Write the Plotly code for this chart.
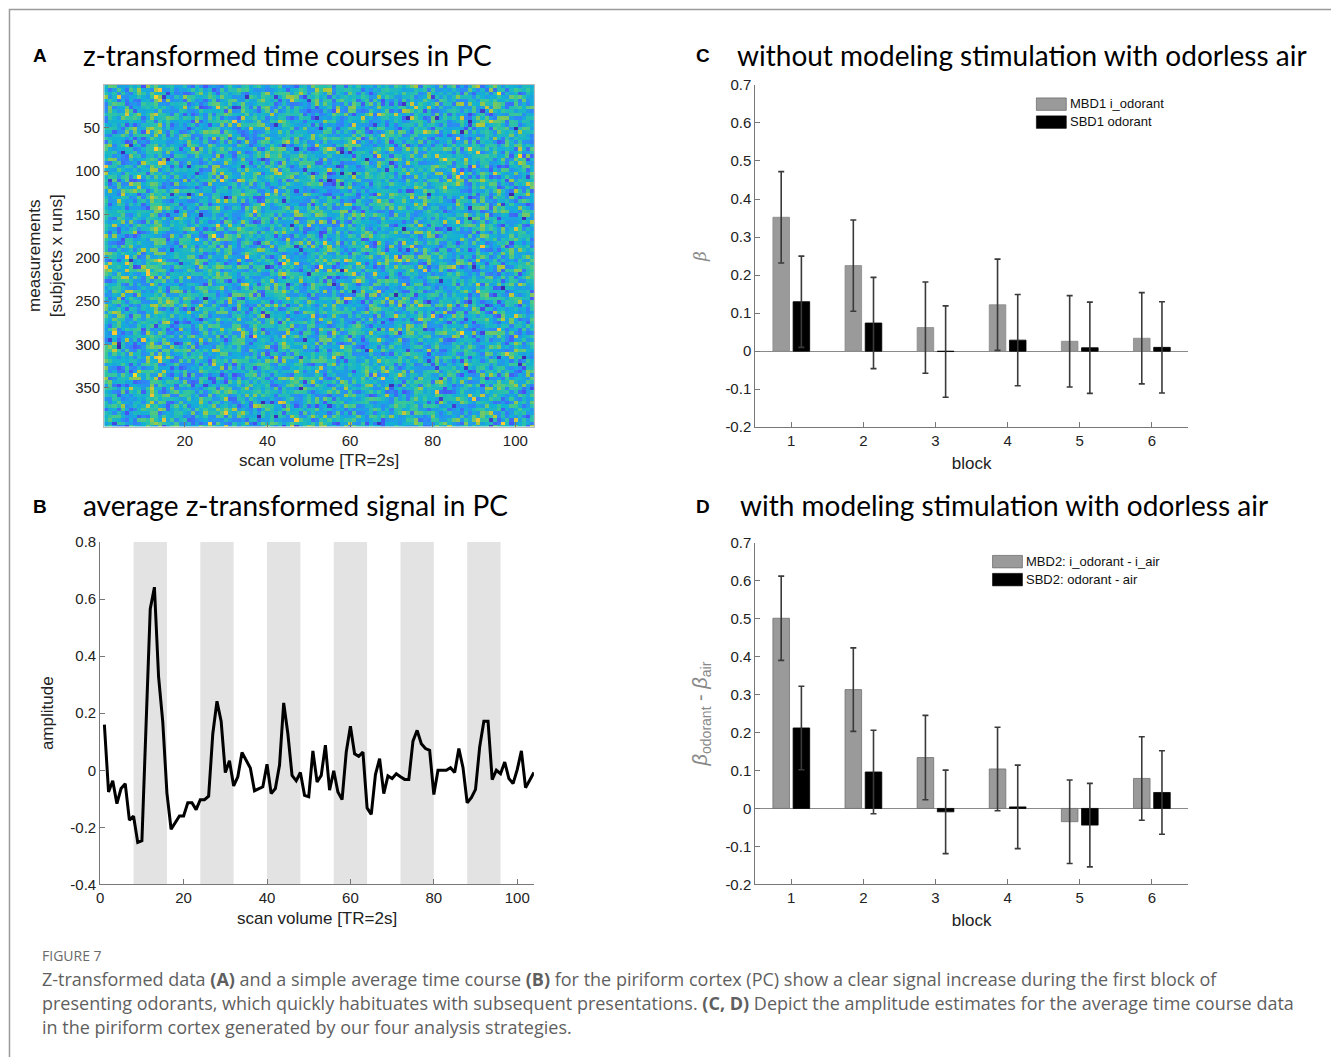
import numpy as np
import plotly.graph_objects as go

# ---------------- data ----------------
volumes = list(range(1, 105))
avg_signal = [0.160, -0.076, -0.037, -0.117, -0.064, -0.047, -0.175, -0.161, -0.253, -0.247,
              0.160, 0.566, 0.642, 0.327, 0.170, -0.080, -0.207, -0.183, -0.160, -0.160,
              -0.114, -0.114, -0.138, -0.103, -0.103, -0.091, 0.128, 0.242, 0.172, -0.008,
              0.033, -0.055, -0.023, 0.062, 0.035, 0.008, -0.072, -0.064, -0.058, 0.021,
              -0.082, -0.064, 0.018, 0.236, 0.128, -0.018, -0.037, -0.008, -0.088, -0.093,
              0.068, -0.041, -0.018, 0.088, -0.070, -0.002, -0.076, -0.103, 0.064, 0.154,
              0.058, 0.049, 0.064, -0.132, -0.155, -0.015, 0.041, -0.082, -0.020, -0.029,
              -0.012, -0.023, -0.032, -0.032, 0.102, 0.140, 0.093, 0.076, 0.070, -0.085,
              0.000, 0.000, 0.000, 0.009, -0.008, 0.076, 0.009, -0.114, -0.096, -0.067,
              0.082, 0.172, 0.172, -0.033, 0.000, -0.012, 0.029, -0.029, -0.047, 0.002,
              0.068, -0.061, -0.035, -0.008]
stim_onsets = [8, 24, 40, 56, 72, 88]
stim_length = 8
n_measurements = 394

blocks = [1, 2, 3, 4, 5, 6]
mbd1 = [0.352, 0.225, 0.062, 0.122, 0.026, 0.034]
mbd1_err = [0.120, 0.120, 0.120, 0.120, 0.120, 0.120]
sbd1 = [0.130, 0.074, -0.001, 0.029, 0.009, 0.010]
sbd1_err = [0.120, 0.120, 0.120, 0.120, 0.120, 0.120]
mbd2 = [0.501, 0.313, 0.134, 0.104, -0.035, 0.079]
mbd2_err = [0.111, 0.110, 0.111, 0.110, 0.110, 0.110]
sbd2 = [0.212, 0.096, -0.009, 0.004, -0.044, 0.042]
sbd2_err = [0.110, 0.110, 0.110, 0.110, 0.110, 0.110]

legend_c = ["MBD1 i_odorant", "SBD1 odorant"]
legend_d = ["MBD2: i_odorant - i_air", "SBD2: odorant - air"]

# Panel A: individual cells cannot be read from the picture; column means follow
# the average time course of panel B, and the per-cell scatter is a fixed texture.
_rng = np.random.default_rng(11)
_tex = np.repeat(_rng.standard_normal((int(np.ceil(n_measurements / 4)), len(volumes))), 4, axis=0)[:n_measurements]
heat_z = _tex + np.array(avg_signal)[None, :]
measurements = list(range(1, n_measurements + 1))

parula = [[0.0, "rgb(62,38,168)"], [0.11, "rgb(72,82,244)"], [0.238, "rgb(46,135,247)"],
          [0.365, "rgb(18,177,214)"], [0.492, "rgb(55,200,151)"], [0.619, "rgb(171,199,57)"],
          [0.746, "rgb(254,195,56)"], [0.873, "rgb(245,235,24)"], [1.0, "rgb(249,251,21)"]]

W, H = 1331, 1057
# calibration of figure coordinates to the photographed page (body margin / viewport)
def px(x): return (x - 3.5) / W
def py(y): return 1 - ((y - 8) / 0.985) / H

TICK = dict(family="Liberation Sans, Arial, sans-serif", size=15, color="#222")
AXT = dict(family="Liberation Sans, Arial, sans-serif", size=17, color="#222")
AXC = "#777"

fig = go.Figure()

# A heatmap
fig.add_trace(go.Heatmap(x=volumes, y=measurements, z=heat_z, colorscale=parula,
                         zmin=-3.0, zmax=5.0, showscale=False, xaxis="x", yaxis="y"))

# B shading + line
for on in stim_onsets:
    fig.add_shape(type="rect", xref="x2", yref="y2 domain", x0=on, x1=on + stim_length,
                  y0=0, y1=1, fillcolor="#e3e3e3", line_width=0, layer="below")
fig.add_trace(go.Scatter(x=volumes, y=avg_signal, mode="lines",
                         line=dict(color="black", width=3), xaxis="x2", yaxis="y2",
                         showlegend=False))

# C bars
err_style = dict(color="#3a3a3a", thickness=1.6, width=3)
fig.add_trace(go.Bar(x=blocks, y=mbd1, marker=dict(color="#9a9a9a", line=dict(color="#8a8a8a", width=0.8)),
                     error_y=dict(type="data", array=mbd1_err, **err_style),
                     xaxis="x3", yaxis="y3", showlegend=False))
fig.add_trace(go.Bar(x=blocks, y=sbd1, marker=dict(color="black", line=dict(color="black", width=0.8)),
                     error_y=dict(type="data", array=sbd1_err, **err_style),
                     xaxis="x3", yaxis="y3", showlegend=False))
# D bars
fig.add_trace(go.Bar(x=blocks, y=mbd2, marker=dict(color="#9a9a9a", line=dict(color="#707070", width=0.8)),
                     error_y=dict(type="data", array=mbd2_err, **err_style),
                     xaxis="x4", yaxis="y4", showlegend=False))
fig.add_trace(go.Bar(x=blocks, y=sbd2, marker=dict(color="black", line=dict(color="black", width=0.8)),
                     error_y=dict(type="data", array=sbd2_err, **err_style),
                     xaxis="x4", yaxis="y4", showlegend=False))

def ax(domain, **kw):
    d = dict(domain=domain, showgrid=False, zeroline=False, ticks="inside", ticklen=5,
             tickcolor=AXC, linecolor=AXC, linewidth=1, showline=True, tickfont=TICK,
             title_font=AXT)
    d.update(kw)
    return d

xa_dom = [px(104), px(535)]
ya_dom = [py(426), py(84)]
xb_dom = [px(100), px(535)]
yb_dom = [py(884.3), py(541.7)]
xc_dom = [px(757), px(1191)]
yc_dom = [py(426.7), py(84)]
yd_dom = [py(884.3), py(542.3)]

fig.update_layout(
    width=W, height=H, margin=dict(l=0, r=0, t=0, b=0),
    paper_bgcolor="white", plot_bgcolor="rgba(0,0,0,0)",
    barmode="group", bargap=0.44, bargroupgap=0.18,
    showlegend=False,
    xaxis=ax(xa_dom, anchor="y", range=[0.5, 104.5], tickvals=[20, 40, 60, 80, 100], mirror=True,
             linecolor="#bbb", title=dict(text="scan volume [TR=2s]", standoff=6)),
    yaxis=ax(ya_dom, anchor="x", range=[n_measurements + 0.5, 0.5], tickvals=[50, 100, 150, 200, 250, 300, 350],
             mirror=True, linecolor="#bbb",
             title=dict(text="measurements<br>[subjects x runs]", standoff=8)),
    xaxis2=ax(xb_dom, anchor="y2", range=[0, 104], tickvals=[0, 20, 40, 60, 80, 100],
              title=dict(text="scan volume [TR=2s]", standoff=6)),
    yaxis2=ax(yb_dom, anchor="x2", range=[-0.4, 0.8], tickvals=[-0.4, -0.2, 0, 0.2, 0.4, 0.6, 0.8],
              ticktext=["-0.4", "-0.2", "0", "0.2", "0.4", "0.6", "0.8"],
              title=dict(text="amplitude", standoff=12)),
    xaxis3=ax(xc_dom, anchor="y3", range=[0.5, 6.5], tickvals=blocks,
              title=dict(text="block", standoff=8)),
    yaxis3=ax(yc_dom, anchor="x3", range=[-0.2, 0.7], tickvals=[-0.2, -0.1, 0, 0.1, 0.2, 0.3, 0.4, 0.5, 0.6, 0.7],
              ticktext=["-0.2", "-0.1", "0", "0.1", "0.2", "0.3", "0.4", "0.5", "0.6", "0.7"],
              zeroline=True, zerolinecolor="#8a8a8a", zerolinewidth=1,
              title=dict(text="<i>β</i>", standoff=14, font=dict(family="DejaVu Serif", size=17, color="#888"))),
    xaxis4=ax(xc_dom, anchor="y4", range=[0.5, 6.5], tickvals=blocks,
              title=dict(text="block", standoff=8)),
    yaxis4=ax(yd_dom, anchor="x4", range=[-0.2, 0.7], tickvals=[-0.2, -0.1, 0, 0.1, 0.2, 0.3, 0.4, 0.5, 0.6, 0.7],
              ticktext=["-0.2", "-0.1", "0", "0.1", "0.2", "0.3", "0.4", "0.5", "0.6", "0.7"],
              zeroline=True, zerolinecolor="#8a8a8a", zerolinewidth=1,
              title=dict(text="<i>β</i><sub>odorant</sub> - <i>β</i><sub>air</sub>", standoff=12,
                         font=dict(family="Liberation Sans, Arial", size=20, color="#888"))),
)

# frame
fig.add_shape(type="rect", xref="paper", yref="paper", x0=px(9), x1=px(1400), y0=py(1100), y1=py(8.6),
              line=dict(color="#9a9a9a", width=1.5), fillcolor="rgba(0,0,0,0)", layer="below")

TITLE = dict(family="Lato, Open Sans, sans-serif", size=28, color="black")
LET = dict(family="Liberation Sans, Arial, sans-serif", size=19, color="black")
anns = []
for letter, lx, tx, ty, text in [("A", 40, 81, 54, "z-transformed time courses in PC"),
                                 ("B", 40, 81, 505, "average z-transformed signal in PC"),
                                 ("C", 705, 737, 54, "without modeling stimulation with odorless air"),
                                 ("D", 705, 740, 505, "with modeling stimulation with odorless air")]:
    anns.append(dict(text="<b>%s</b>" % letter, x=px(lx), y=py(ty + 1), xref="paper", yref="paper",
                     xanchor="center", yanchor="middle", showarrow=False, font=LET))
    anns.append(dict(text=text, x=px(tx), y=py(ty), xref="paper", yref="paper",
                     xanchor="left", yanchor="middle", showarrow=False, font=TITLE))

# manual legends (wide patches like the original)
LEGF = dict(family="Liberation Sans, Arial, sans-serif", size=13, color="#111")
for labels, xref, yref, x0, y0s in [(legend_c, "x3 domain", "y3 domain", 1039, [97, 115]),
                                    (legend_d, "x4 domain", "y4 domain", 995, [555, 573])]:
    dom_x0, dom_x1 = 757, 1191
    ytop = 84 if xref.startswith("x3") else 542.3
    ybot = 426.7 if xref.startswith("x3") else 884.3
    for lab, col, yy in zip(labels, ["#9a9a9a", "black"], y0s):
        fig.add_shape(type="rect", xref=xref, yref=yref,
                      x0=(x0 - dom_x0) / (dom_x1 - dom_x0), x1=(x0 + 30 - dom_x0) / (dom_x1 - dom_x0),
                      y0=(ybot - (yy + 12.5)) / (ybot - ytop), y1=(ybot - yy) / (ybot - ytop),
                      fillcolor=col, line=dict(color="#555" if col != "black" else "black", width=0.6))
        anns.append(dict(text=lab, xref=xref, yref=yref, x=(x0 + 32 - dom_x0) / (dom_x1 - dom_x0),
                         y=(ybot - (yy + 6)) / (ybot - ytop), xanchor="left", yanchor="middle",
                         showarrow=False, font=LEGF))

# caption
CAP = dict(family="Open Sans, sans-serif", size=18, color="#5f5f5f")
anns.append(dict(text="FIGURE 7", x=px(40), y=py(956), xref="paper", yref="paper", xanchor="left",
                 yanchor="middle", showarrow=False, font=dict(family="Open Sans, sans-serif", size=14, color="#6a6a6a")))
cap_lines = [
    "Z-transformed data <b>(A)</b> and a simple average time course <b>(B)</b> for the piriform cortex (PC) show a clear signal increase during the first block of",
    "presenting odorants, which quickly habituates with subsequent presentations. <b>(C, D)</b> Depict the amplitude estimates for the average time course data",
    "in the piriform cortex generated by our four analysis strategies.",
]
for i, line in enumerate(cap_lines):
    anns.append(dict(text=line, x=px(40), y=py(979 + 24 * i), xref="paper", yref="paper", xanchor="left",
                     yanchor="middle", showarrow=False, font=CAP))

fig.update_layout(annotations=anns)
fig.write_html("out.html")
